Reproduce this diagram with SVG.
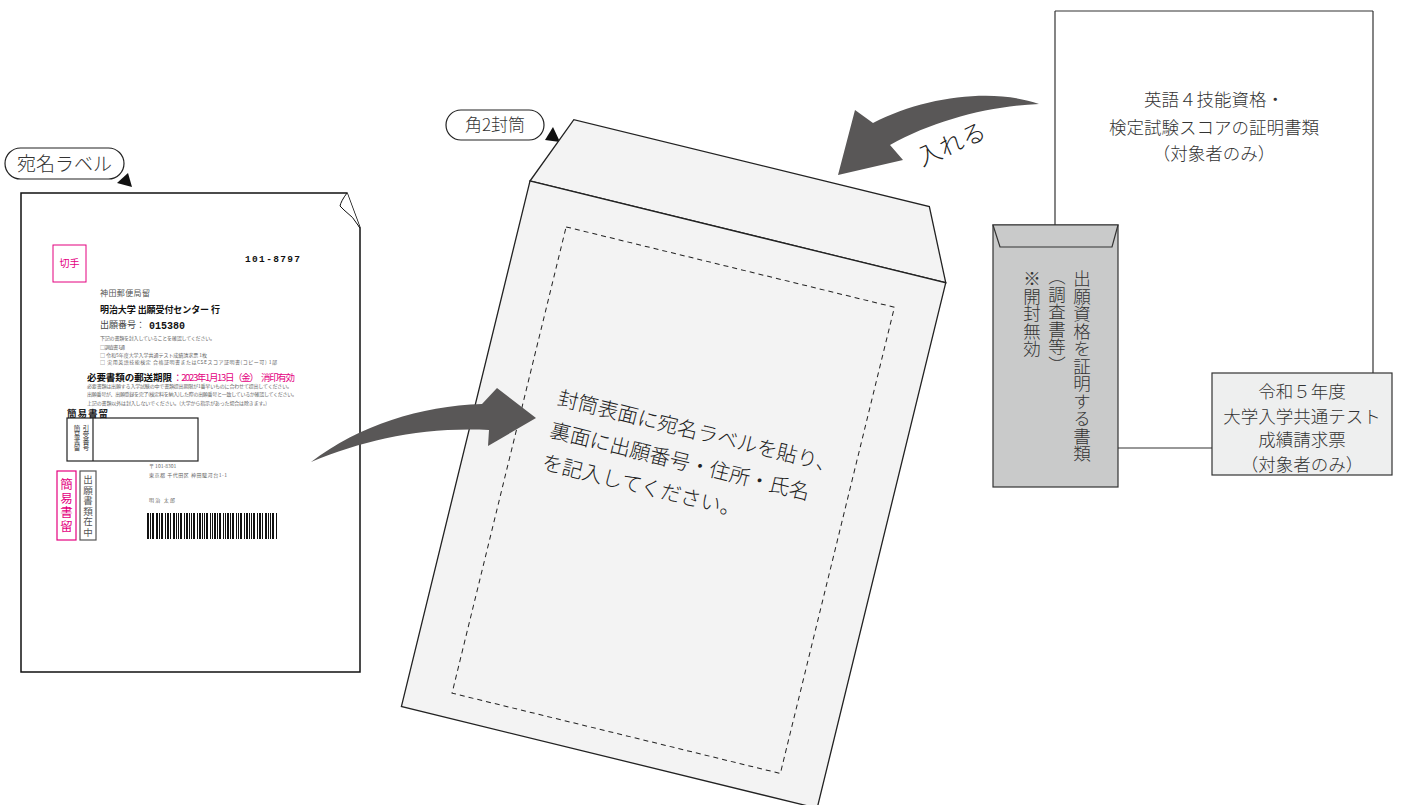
<svg xmlns="http://www.w3.org/2000/svg" width="1402" height="805" viewBox="0 0 1402 805">
<defs>
<style>
text{font-family:"Noto Sans CJK JP","Noto Sans",sans-serif;fill:#333}
.pill{fill:#fff;stroke:#222;stroke-width:1.2}
.tri{fill:#111}
.env{fill:#f3f3f3;stroke:#222;stroke-width:1.3}
.line{fill:none;stroke:#333;stroke-width:1.2}
.arrow{fill:#595757}
.sm{font-size:5px;fill:#666}
.pink{fill:#e4007f}
.vt{writing-mode:vertical-rl}
.lt{font-weight:300}
</style>
</defs>
<rect width="1402" height="805" fill="#fff"/>

<g id="label-tag">
<rect class="pill" x="5" y="148" width="119" height="31" rx="15.5"/>
<text class="lt" x="64.5" y="171" text-anchor="middle" font-size="19">宛名ラベル</text>
<polygon class="tri" points="128,173 117,183 132,187"/>
</g>

<g id="address-label">
<path d="M21,193 H347 L360,228 V672 H21 Z" fill="#fff" stroke="#111" stroke-width="1.5"/>
<path d="M347,193 Q341,201 340,206 L344,210 Q353,216 360,228" fill="#fff" stroke="#111" stroke-width="1"/>
<rect x="53" y="245" width="33" height="37" fill="none" stroke="#e4007f" stroke-width="1"/>
<text class="pink" x="69.5" y="267" text-anchor="middle" font-size="10">切手</text>
<text x="245" y="261.5" font-size="9.5" font-weight="bold" style="fill:#111;font-family:'Liberation Mono',monospace" textLength="55">101-8797</text>
<text x="100" y="296" font-size="8" style="fill:#555" textLength="50">神田郵便局留</text>
<text x="100" y="312.5" font-size="9" font-weight="bold" style="fill:#111" textLength="120">明治大学 出願受付センター 行</text>
<text x="100" y="328" font-size="9" style="fill:#444" textLength="45">出願番号：</text>
<text x="149" y="328.5" font-size="10" font-weight="bold" style="fill:#111;font-family:'Liberation Mono',monospace" textLength="36">015380</text>
<text class="sm" x="100" y="340" textLength="115">下記の書類を封入していることを確認してください。</text>
<text class="sm" x="100" y="349" textLength="25">□ 調査書 1通</text>
<text class="sm" x="100" y="356.5" textLength="107">□ 令和5年度大学入学共通テスト成績請求票 1枚</text>
<text class="sm" x="100" y="364" textLength="177">□ 実用英語技能検定 合格証明書またはCSEスコア証明書(コピー可) 1部</text>
<text x="87" y="381" font-size="9.5" font-weight="bold" style="fill:#111" textLength="85">必要書類の郵送期限</text>
<text class="pink" x="173" y="381" font-size="9.5" textLength="122">：2023年1月13日（金）　消印有効</text>
<text class="sm" x="87" y="388" textLength="205">必要書類は出願する入学試験の中で書類提出期限が1番早いものに合わせて提出してください。</text>
<text class="sm" x="87" y="396" textLength="210">出願番号が、出願登録を完了(検定料を納入)した際の出願番号と一致しているか確認してください。</text>
<text class="sm" x="87" y="404.5" textLength="180">上記の書類以外は封入しないでください。(大学から指示があった場合は除きます。)</text>
<text x="67" y="416.5" font-size="9.5" font-weight="bold" style="fill:#222" textLength="41">簡易書留</text>
<rect x="67" y="418" width="131" height="43" fill="none" stroke="#222" stroke-width="1.2"/>
<line x1="93" y1="418" x2="93" y2="461" stroke="#222" stroke-width="1.2"/>
<text class="vt" x="86" y="425" font-size="6.5" style="fill:#333">引受番号</text>
<text class="vt" x="77" y="425" font-size="6.5" style="fill:#333">簡易書留</text>
<rect x="57" y="471" width="19" height="69" fill="none" stroke="#e4007f" stroke-width="1.2"/>
<text class="vt pink" x="66.5" y="478" font-size="12.5" style="letter-spacing:1.5px">簡易書留</text>
<rect x="80" y="471" width="16" height="69" fill="none" stroke="#555" stroke-width="1.2"/>
<text class="vt" x="88" y="475" font-size="9.5" style="fill:#555;letter-spacing:1px">出願書類在中</text>
<text class="sm" x="149" y="468">〒 101-8301</text>
<text class="sm" x="149" y="477" textLength="78">東京都 千代田区 神田駿河台1-1</text>
<text class="sm" x="149" y="502" textLength="26">明治 太郎</text>
<path fill="#111" d="M147,513h2v26h-2z M150,513h1v26h-1z M152,513h2v26h-2z M156,513h2v26h-2z M159,513h1v26h-1z M161,513h2v26h-2z M165,513h1v26h-1z M167,513h2v26h-2z M170,513h1v26h-1z M173,513h2v26h-2z M176,513h1v26h-1z M178,513h1v26h-1z M180,513h2v26h-2z M184,513h1v26h-1z M186,513h2v26h-2z M189,513h1v26h-1z M191,513h1v26h-1z M193,513h2v26h-2z M197,513h1v26h-1z M199,513h2v26h-2z M202,513h1v26h-1z M204,513h1v26h-1z M206,513h2v26h-2z M210,513h1v26h-1z M212,513h1v26h-1z M214,513h2v26h-2z M217,513h1v26h-1z M219,513h2v26h-2z M223,513h1v26h-1z M225,513h1v26h-1z M227,513h2v26h-2z M230,513h1v26h-1z M232,513h2v26h-2z M236,513h1v26h-1z M238,513h1v26h-1z M240,513h2v26h-2z M244,513h1v26h-1z M246,513h2v26h-2z M249,513h1v26h-1z M251,513h1v26h-1z M253,513h2v26h-2z M257,513h1v26h-1z M259,513h2v26h-2z M262,513h1v26h-1z M265,513h2v26h-2z M268,513h1v26h-1z M270,513h1v26h-1z M272,513h2v26h-2z M276,513h1v26h-1z"/>
</g>

<g id="envelope-tag">
<rect class="pill" x="446" y="110" width="98" height="30" rx="15"/>
<text class="lt" x="495" y="131" text-anchor="middle" font-size="17">角2封筒</text>
<polygon class="tri" points="553,127 545,140 560,142"/>
</g>

<g id="envelope" transform="translate(530,181) rotate(13.75)">
<polygon class="env" points="0,0 28,-70 394,-70 428,0"/>
<rect class="env" x="0" y="0" width="428" height="541"/>
<rect x="46" y="36" width="338" height="480" fill="none" stroke="#222" stroke-width="1" stroke-dasharray="5,4"/>
<text class="lt" x="79" y="211" font-size="20.5" style="fill:#222">封筒表面に宛名ラベルを貼り、</text>
<text class="lt" x="79" y="244" font-size="20.5" style="fill:#222">裏面に出願番号・住所・氏名</text>
<text class="lt" x="79" y="277" font-size="20.5" style="fill:#222">を記入してください。</text>
</g>

<g id="english-docs">
<rect x="1055" y="11" width="318" height="362" fill="#fff" stroke="none"/>
<text class="lt" x="1214" y="106" text-anchor="middle" font-size="17.5">英語４技能資格・</text>
<text class="lt" x="1214" y="134" text-anchor="middle" font-size="17.5">検定試験スコアの証明書類</text>
<text class="lt" x="1214" y="160" text-anchor="middle" font-size="17.5">（対象者のみ）</text>
</g>

<g id="qualification-envelope">
<rect x="993" y="225" width="125" height="262" fill="#c9caca" stroke="#333" stroke-width="1.2"/>
<polygon points="993,225 1118,225 1112,247 1000,247" fill="#c9caca" stroke="#333" stroke-width="1.2"/>
<text class="vt lt" x="1082" y="270" font-size="17.5">出願資格を証明する書類</text>
<text class="vt lt" x="1057" y="268" font-size="17.5">（調査書等）</text>
<text class="vt lt" x="1032" y="270" font-size="17.5">※開封無効</text>
</g>

<g id="score-request">
<rect x="1212" y="373" width="180" height="102" fill="#eeefef" stroke="#333" stroke-width="1.2"/>
<text class="lt" x="1302" y="398" text-anchor="middle" font-size="17.5">令和５年度</text>
<text class="lt" x="1302" y="423" text-anchor="middle" font-size="17.5">大学入学共通テスト</text>
<text class="lt" x="1302" y="446" text-anchor="middle" font-size="17.5">成績請求票</text>
<text class="lt" x="1302" y="471" text-anchor="middle" font-size="17.5">（対象者のみ）</text>
</g>

<g id="connectors">
<line class="line" x1="1055" y1="11" x2="1055" y2="225"/>
<line class="line" x1="1373" y1="11" x2="1373" y2="373"/>
<line class="line" x1="1055" y1="11" x2="1373" y2="11"/>
<line class="line" x1="1118" y1="448" x2="1212" y2="448"/>
<path class="arrow" d="M311,462 C360,425 420,406 482,404 L497,388 L536,418 L488,446 L489,430 C420,427 365,440 311,462 Z"/>
<path class="arrow" d="M1039,104 C995,88 925,96 873,123 L855,110 L838,175 L903,160 L890,145 C935,120 990,106 1039,104 Z"/>
<text class="lt" transform="translate(955,152) rotate(-24)" text-anchor="middle" font-size="24" style="fill:#222">入れる</text>
</g>
</svg>
